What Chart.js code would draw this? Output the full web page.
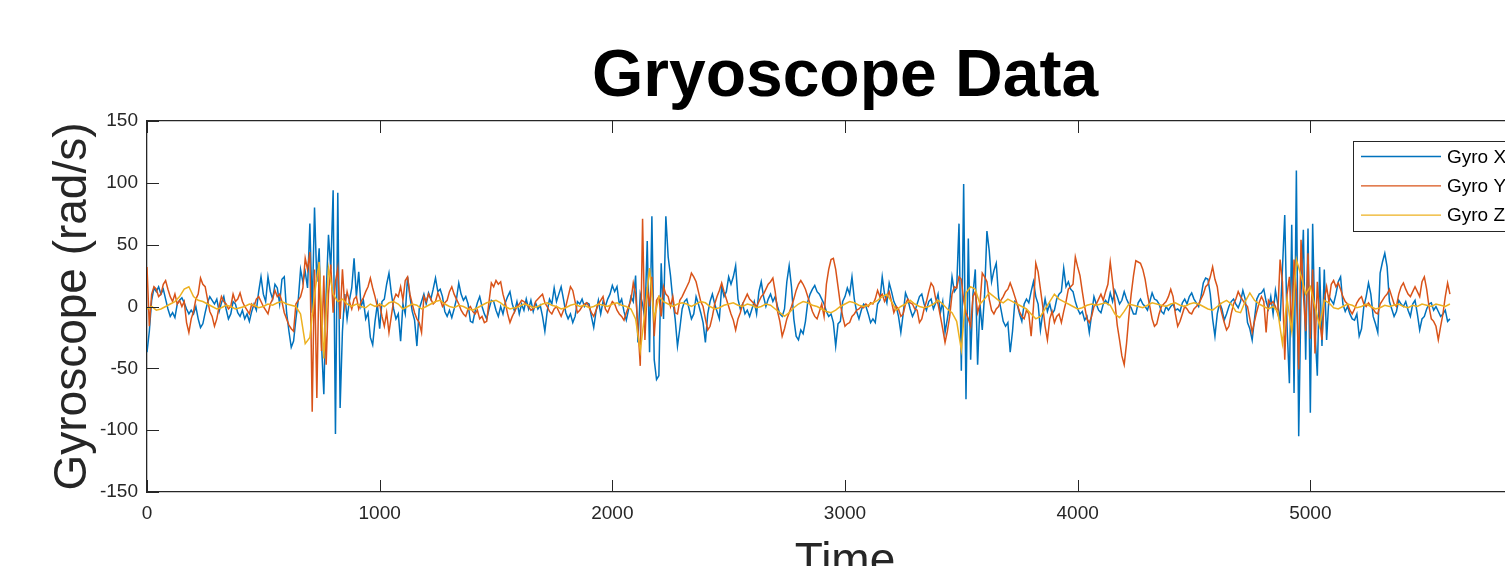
<!DOCTYPE html>
<html>
<head>
<meta charset="utf-8">
<script src="https://cdn.jsdelivr.net/npm/chart.js@4/dist/chart.umd.min.js"></script>
<style>
html,body{margin:0;padding:0;overflow:hidden;background:#fff;width:1505px;height:566px}
#wrap{position:absolute;left:0;top:0;width:1690px;height:600px}
</style>
</head>
<body>
<div id="wrap"><canvas id="c" width="1690" height="600"></canvas></div>
<script>
const TITLE = 'Gryoscope Data';
const X_LABEL = 'Time';
const Y_LABEL = 'Gyroscope (rad/s)';
const SERIES_NAMES = ['Gyro X', 'Gyro Y', 'Gyro Z'];
const SERIES_COLORS = ['#0072BD', '#D95319', '#EDB120'];
const STEP_XY = 10;   // time between samples of gyroX / gyroY
const STEP_Z = 20;    // time between samples of gyroZ
const X_MIN = 0, X_MAX = 6000, X_STEP = 1000;
const Y_MIN = -150, Y_MAX = 150, Y_STEP = 50;

const gyroX = [
-37,-20,5,15,12,16,10,14,6,-2,
-8,-5,-9,2,5,7,3,-2,-6,-3,
-6,0,-10,-17,-14,-5,3,8,5,2,
6,-4,3,8,-2,-10,-6,4,2,-5,
-8,-3,-10,-6,-12,-4,2,-3,12,24,
10,4,24,12,6,18,15,2,22,24,
-5,-20,-33,-28,-10,5,30,20,28,15,
67,-5,80,20,47,-30,-71,10,58,30,
94,-103,92,-82,-20,10,-10,5,15,39,
8,28,0,5,-10,-5,-25,-31,-12,2,
-18,4,6,18,27,11,-2,-10,-6,-28,
2,-6,24,8,-4,-11,-32,-2,4,10,
2,11,6,14,23,12,14,8,-4,-8,
-3,-9,-2,6,19,10,5,8,2,-12,
-13,-4,3,8,0,-6,-10,-2,5,4,
-3,-8,0,-6,3,8,12,2,-4,4,
-6,2,-3,6,-2,5,-4,3,-2,1,
-8,-20,-4,6,2,15,4,10,16,6,
-5,-10,-6,-13,-8,4,2,6,0,3,
2,-8,-17,-4,5,-6,4,0,6,10,
17,12,16,2,6,-4,-11,-2,8,4,
25,-29,10,2,-10,53,-37,73,-43,-59,
-56,35,-10,73,40,25,5,-10,-32,-18,
-2,4,6,-2,-10,-6,8,2,-5,-13,
-29,-6,4,10,2,-4,-10,16,8,12,
24,18,24,33,6,-2,2,-6,-3,-8,
-2,4,-6,12,20,8,0,6,10,4,
8,0,-6,-8,-2,20,33,16,-10,-24,
-27,-19,-22,-12,4,10,14,17,12,10,
6,2,-4,-8,-6,-13,-32,-14,-12,4,
8,15,10,24,6,-4,-10,-3,2,0,
-6,-13,-10,-13,2,5,24,10,3,19,
12,4,0,-8,-21,-6,11,6,-2,-8,
-4,2,8,10,2,-3,4,6,-2,3,
10,-5,4,-21,-10,3,24,12,15,67,
-52,99,-75,55,-43,10,30,-47,2,-19,
10,61,45,20,29,35,8,-2,-12,-16,
-13,-37,-20,4,2,-6,-12,2,6,3,
12,20,8,2,-19,-5,6,-4,2,-6,
-3,6,10,12,31,16,20,14,12,4,
-2,-6,-4,-11,-8,-21,-6,8,2,-3,
-5,2,5,2,11,4,13,8,2,5,
12,6,2,-1,-6,-6,3,6,2,0,
-3,4,11,6,5,2,-4,-6,0,-3,
0,2,-3,-2,-4,3,6,2,8,11,
6,3,0,8,19,23,22,10,-10,-24,
-6,3,-2,-11,-6,0,4,6,2,-1,
4,13,6,-13,-18,-27,-10,6,10,11,
14,4,-2,8,-6,13,2,-12,30,74,
-16,-62,66,-70,110,-105,10,62,-43,63,
-86,67,-20,-56,32,-32,30,-27,8,5,
2,10,20,24,2,-4,0,-6,-10,-11,
-6,-24,-18,0,8,19,10,-8,-14,-21,
27,36,43,32,4,-2,-8,-4,5,2,
0,4,-3,-8,2,5,-6,-19,-10,-8,
-2,2,3,-3,0,-4,-8,-6,-3,-12,
-10
];

const gyroY = [
32,-16,10,16,14,8,10,18,21,14,
8,4,10,2,5,0,4,-13,-21,-10,
-4,6,10,23,18,16,6,-4,-8,-16,
-10,0,8,4,2,-2,0,10,4,6,
11,4,0,-3,-6,2,0,6,8,4,
0,-3,-6,2,6,13,8,10,4,-5,
-10,-15,-18,-20,2,5,8,15,39,30,
44,-85,30,-74,36,-36,25,-47,10,34,
-5,20,31,-10,30,0,12,4,-2,6,
8,-2,4,7,12,16,23,15,8,0,
2,-8,-16,-5,-21,-8,5,10,8,16,
5,21,24,10,2,-5,-10,-13,-21,8,
4,10,6,2,4,11,6,0,3,5,
12,16,10,6,2,-3,-6,-8,-2,0,
-4,-6,-3,-10,-8,-13,-12,4,19,16,
21,18,20,10,3,-6,-13,-8,-4,0,
2,5,4,2,0,-3,-2,4,6,8,
10,3,0,-4,-6,-2,0,-4,-8,-3,
0,8,16,13,4,-5,-3,0,2,3,
0,-5,-8,-3,2,5,8,-2,-5,0,
4,2,-3,-6,-8,-11,-5,0,5,19,
10,-16,-48,71,-27,16,0,24,-24,5,
8,-8,16,10,8,0,8,-5,-6,5,
8,12,16,20,27,24,20,12,4,0,
-10,-19,-16,-8,2,8,13,19,12,6,
0,-6,-11,-19,-10,-5,2,6,10,6,
4,2,0,4,8,10,14,18,20,23,
12,-4,-12,-24,-18,-10,-5,0,6,13,
18,21,18,14,8,2,-4,-8,-10,-4,
2,-8,18,30,38,39,30,16,2,-8,
-16,-14,-13,-8,-6,-3,-2,0,-1,2,
0,3,2,6,13,8,10,4,8,12,
4,-5,0,-2,-8,-6,2,6,3,2,
-2,-3,-13,-10,-2,4,12,19,16,6,
2,-8,-18,-29,-20,-8,10,16,15,24,
22,5,-5,-10,-16,8,12,-5,2,27,
24,20,6,-3,-6,-2,0,5,8,12,
14,19,14,8,2,-4,-8,-10,-3,-6,
-24,0,35,28,14,0,-16,-27,-10,-4,
-13,-8,-6,-13,-4,4,14,16,18,40,
32,25,12,0,-10,-13,-8,0,2,6,
10,5,12,18,36,20,4,-15,-27,-40,
-47,-30,-8,10,25,37,36,35,30,22,
10,0,-10,-16,-14,-6,0,2,4,8,
14,8,-6,-16,-12,-6,0,-2,-5,-6,
-2,0,2,6,10,16,18,24,32,22,
16,2,-6,-13,-19,-16,-6,2,6,12,
8,5,2,0,-10,-21,-12,-4,3,8,
4,-21,5,2,4,0,-6,38,20,-43,
10,24,-20,38,12,-51,54,10,-20,43,
-26,30,-38,20,-10,-27,5,16,4,18,
21,16,19,14,8,4,2,-3,-6,-2,
3,6,8,2,0,3,0,-2,-5,-6,
2,5,8,10,14,8,2,0,10,16,
19,14,10,8,12,16,12,8,20,24,
14,0,-10,-12,-16,-27,-16,-6,8,19,
10
];

const gyroZ = [
-2,0,-3,-2,0, 2,4,8,14,16, 8,5,4,2,0, -2,-1,1,0,-2, -1,0,2,1,-1,
0,2,1,3,4, 2,1,0,-6,-30, -25,10,36,-42,31, 10,4,6,2,0, 2,0,-1,2,0,
2,0,3,4,2, -2,0,2,1,-2, 0,2,4,5,2, 0,-1,1,0,-2, -3,-1,1,3,4,
5,3,0,-2,-1, 0,2,1,-1,0, 2,3,1,0,-2, -1,1,2,0,1, -1,0,2,1,0,
2,3,1,0,-2, -10,-36,-5,31,-10, 8,4,2,0,2, 3,2,0,2,4, 3,0,-2,-1,1,
2,3,1,0,2, 1,-1,0,2,1, -2,-5,-8,-5,-1, 2,4,3,1,0, -2,-4,-5,-3,0,
2,4,3,1,0, 1,3,5,8,10, 4,-3,0,2,5, 2,0,-1,0,2, 5,2,-2,-5,-12,
-35,11,16,14,2, 6,11,8,5,3, 6,4,2,0,-2, -6,-10,-8,-2,4, 10,6,4,2,0,
-2,-1,1,2,1, 2,3,1,-6,-9, -4,2,1,0,-1, 1,3,2,1,0, 2,3,1,0,2,
3,2,0,-2,-3, 0,3,5,2,-4, -5,4,11,5,2, 0,-2,0,-4,-30, 6,-20,38,25,10,
16,0,-16,5,3, -1,-2,0,2,1, -1,0,2,0,-2, -1,1,0,1,2, 0,-1,1,0,2,
1,0,2,1,0,
2
];

const toPoints = (vals, step) => vals.map((v, i) => ({ x: i * step, y: v }));

const FONT = "'Liberation Sans', Arial, Helvetica, sans-serif";
const AXIS_COLOR = '#262626';
const TICK_LEN = 12;

// MATLAB-style tick marks pointing into the plot box, on all four sides
const inwardTicks = {
  id: 'inwardTicks',
  afterDatasetsDraw(chart) {
    const ctx = chart.ctx, a = chart.chartArea;
    const sx = chart.scales.x, sy = chart.scales.y;
    ctx.save();
    ctx.strokeStyle = AXIS_COLOR;
    ctx.lineWidth = 1;
    ctx.beginPath();
    sx.ticks.forEach(t => {
      const px = Math.round(sx.getPixelForValue(t.value)) + 0.5;
      ctx.moveTo(px, a.bottom); ctx.lineTo(px, a.bottom - TICK_LEN);
      ctx.moveTo(px, a.top); ctx.lineTo(px, a.top + TICK_LEN);
    });
    sy.ticks.forEach(t => {
      const py = Math.round(sy.getPixelForValue(t.value)) + 0.5;
      ctx.moveTo(a.left, py); ctx.lineTo(a.left + TICK_LEN, py);
      ctx.moveTo(a.right, py); ctx.lineTo(a.right - TICK_LEN, py);
    });
    ctx.stroke();
    ctx.restore();
  }
};

const insideLegend = {
  id: 'insideLegend',
  afterDraw(chart) {
    const ctx = chart.ctx;
    const area = chart.chartArea;
    const w = 180, h = 90;
    const x0 = area.right - 10 - w, y0 = area.top + 20;
    ctx.save();
    ctx.fillStyle = '#fff';
    ctx.fillRect(x0, y0, w, h);
    ctx.strokeStyle = AXIS_COLOR;
    ctx.lineWidth = 1;
    ctx.strokeRect(x0 + 0.5, y0 + 0.5, w, h);
    ctx.font = '19px ' + FONT;
    ctx.textBaseline = 'middle';
    ctx.textAlign = 'left';
    chart.data.datasets.forEach((ds, i) => {
      const yy = y0 + 15.5 + i * 29.3;
      ctx.strokeStyle = ds.borderColor;
      ctx.lineWidth = 1.3;
      ctx.beginPath();
      ctx.moveTo(x0 + 8, yy);
      ctx.lineTo(x0 + 88, yy);
      ctx.stroke();
      ctx.fillStyle = '#000';
      ctx.fillText(ds.label, x0 + 94, yy + 1);
    });
    ctx.restore();
  }
};

const noGrid = { display: false, drawTicks: false };
const borderOpt = { display: true, color: AXIS_COLOR, width: 1.3 };
const plainNumber = v => String(v);

new Chart(document.getElementById('c'), {
  type: 'line',
  data: {
    datasets: [
      { label: SERIES_NAMES[0], data: toPoints(gyroX, STEP_XY), borderColor: SERIES_COLORS[0], order: 3 },
      { label: SERIES_NAMES[1], data: toPoints(gyroY, STEP_XY), borderColor: SERIES_COLORS[1], order: 2 },
      { label: SERIES_NAMES[2], data: toPoints(gyroZ, STEP_Z), borderColor: SERIES_COLORS[2], order: 1 }
    ]
  },
  options: {
    responsive: false,
    animation: false,
    devicePixelRatio: 1,
    layout: { padding: 0 },
    elements: {
      point: { radius: 0 },
      line: { borderWidth: 1.5, tension: 0, fill: false }
    },
    plugins: {
      legend: { display: false },
      tooltip: { enabled: false },
      title: {
        display: true,
        text: TITLE,
        color: '#000',
        font: { family: FONT, size: 66, weight: 'bold', lineHeight: 1.2 },
        padding: { top: 38, bottom: 3.8 }
      }
    },
    scales: {
      x: {
        type: 'linear', position: 'bottom', min: X_MIN, max: X_MAX,
        afterFit: s => { s.height = 108; },
        ticks: { stepSize: X_STEP, callback: plainNumber, color: AXIS_COLOR, padding: 10, maxRotation: 0, font: { family: FONT, size: 19 } },
        grid: noGrid, border: borderOpt,
        title: { display: true, text: X_LABEL, color: AXIS_COLOR, padding: { top: 0, bottom: 10.4 }, font: { family: FONT, size: 46, lineHeight: 1.2 } }
      },
      x2: {
        type: 'linear', position: 'top', min: X_MIN, max: X_MAX,
        afterFit: s => { s.height = 0; },
        ticks: { stepSize: X_STEP, display: false },
        grid: noGrid, border: borderOpt
      },
      y: {
        type: 'linear', position: 'left', min: Y_MIN, max: Y_MAX,
        afterFit: s => { s.width = 147; },
        ticks: { stepSize: Y_STEP, callback: plainNumber, color: AXIS_COLOR, padding: 9, font: { family: FONT, size: 19 } },
        grid: noGrid, border: borderOpt,
        title: { display: true, text: Y_LABEL, color: AXIS_COLOR, padding: { top: 46, bottom: 0 }, font: { family: FONT, size: 46, lineHeight: 1.2 } }
      },
      y2: {
        type: 'linear', position: 'right', min: Y_MIN, max: Y_MAX,
        afterFit: s => { s.width = 147; },
        ticks: { stepSize: Y_STEP, display: false },
        grid: noGrid, border: borderOpt
      }
    }
  },
  plugins: [inwardTicks, insideLegend]
});
</script>
</body>
</html>
